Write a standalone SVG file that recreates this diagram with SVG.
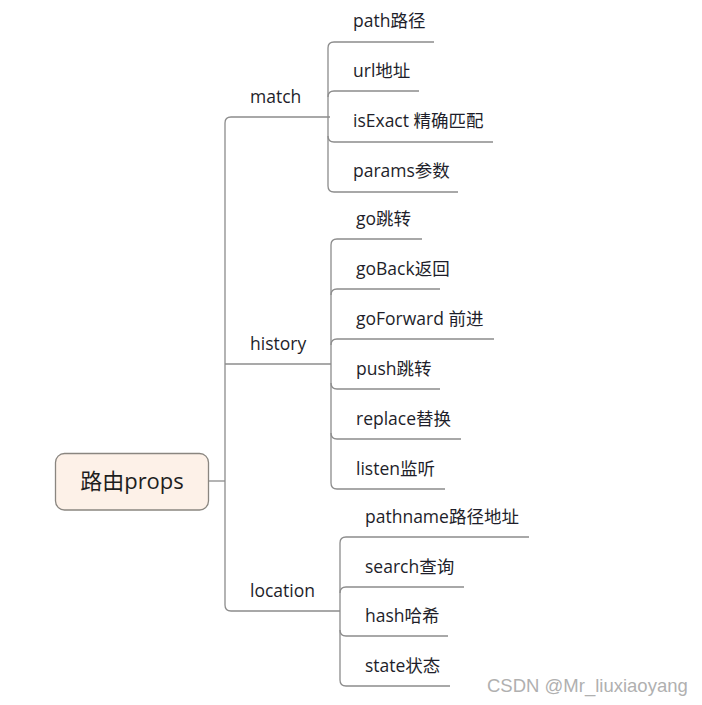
<svg xmlns="http://www.w3.org/2000/svg" width="702" height="705" viewBox="0 0 702 705">
<style>
.ln{fill:none;stroke:#8c8c8c;stroke-width:1.3}
.t{font-family:"Open Sans","Noto Sans CJK SC",sans-serif;font-size:17.5px;fill:#1e1e2a}
.r{font-family:"Open Sans","Noto Sans CJK SC",sans-serif;font-size:22px;fill:#1e1e1e}
.wm{font-family:"Liberation Sans",Arial,sans-serif;font-size:18.5px;fill:#b0b0b0}
</style>
<rect width="702" height="705" fill="#ffffff"/>
<g id="connectors">
<path class="ln" d="M208,481 H225"/>
<path class="ln" d="M330,117 H231 Q225,117 225,123 V605 Q225,611 231,611 H340"/>
<path class="ln" d="M225,364 H331"/>
<path class="ln" d="M434,42 H334 Q328,42 328,48 V186 Q328,192 334,192 H458"/>
<path class="ln" d="M328,97 Q328,91 334,91 H419"/>
<path class="ln" d="M328,136 Q328,142 334,142 H493"/>
<path class="ln" d="M422,239 H337 Q331,239 331,245 V483 Q331,489 337,489 H445"/>
<path class="ln" d="M331,295 Q331,289 337,289 H440"/>
<path class="ln" d="M331,345 Q331,339 337,339 H494"/>
<path class="ln" d="M331,383 Q331,389 337,389 H440"/>
<path class="ln" d="M331,433 Q331,439 337,439 H461"/>
<path class="ln" d="M529,537 H346 Q340,537 340,543 V680 Q340,686 346,686 H450"/>
<path class="ln" d="M340,593 Q340,587 346,587 H464"/>
<path class="ln" d="M340,630 Q340,636 346,636 H448"/>
</g>
<g id="root">
<rect x="55.5" y="453.5" width="153" height="56.5" rx="9" fill="#fdf1e8" stroke="#8a8680" stroke-width="1.3"/>
<text class="r" x="132" y="489" text-anchor="middle">路由props</text>
</g>
<g id="match"><text class="t" x="250" y="103">match</text></g>
<g id="history"><text class="t" x="250" y="350">history</text></g>
<g id="location"><text class="t" x="250" y="597">location</text></g>
<g id="m-path"><text class="t" x="353" y="27">path路径</text></g>
<g id="m-url"><text class="t" x="353" y="77">url地址</text></g>
<g id="m-isExact"><text class="t" x="353" y="127">isExact 精确匹配</text></g>
<g id="m-params"><text class="t" x="353" y="177">params参数</text></g>
<g id="h-go"><text class="t" x="356" y="225">go跳转</text></g>
<g id="h-goBack"><text class="t" x="356" y="275">goBack返回</text></g>
<g id="h-goForward"><text class="t" x="356" y="325">goForward 前进</text></g>
<g id="h-push"><text class="t" x="356" y="375">push跳转</text></g>
<g id="h-replace"><text class="t" x="356" y="425">replace替换</text></g>
<g id="h-listen"><text class="t" x="356" y="475">listen监听</text></g>
<g id="l-pathname"><text class="t" x="365" y="523">pathname路径地址</text></g>
<g id="l-search"><text class="t" x="365" y="573">search查询</text></g>
<g id="l-hash"><text class="t" x="365" y="622">hash哈希</text></g>
<g id="l-state"><text class="t" x="365" y="672">state状态</text></g>
<text class="wm" x="487" y="692">CSDN @Mr_liuxiaoyang</text>
</svg>
